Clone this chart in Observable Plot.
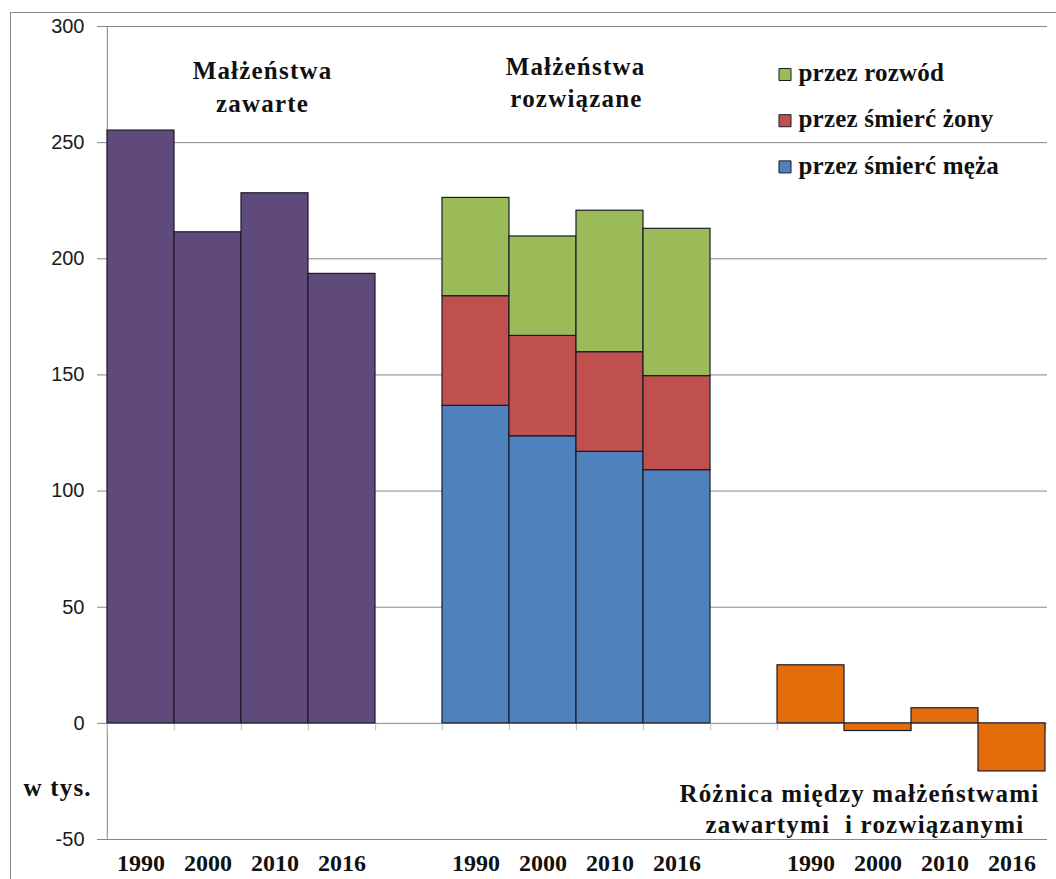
<!DOCTYPE html>
<html><head><meta charset="utf-8">
<script src="https://cdn.jsdelivr.net/npm/d3@7"></script>
<script src="https://cdn.jsdelivr.net/npm/@observablehq/plot@0.6"></script>
<style>
html,body{margin:0;padding:0;background:#fff;overflow:hidden;width:1056px;height:879px;}
#wrap{position:relative;width:1056px;height:879px;}
#wrap svg{position:absolute;left:0;top:0;}
#border{position:absolute;left:10px;top:12px;width:1100px;height:900px;border:1px solid #8a8a8a;pointer-events:none;}
g.serif, g.serif text { font-family: "Liberation Serif", "Times New Roman", "DejaVu Serif", serif !important; font-weight: bold; }
g.wide text { letter-spacing: 1.2px; }
g.legend text { letter-spacing: 0.2px; }
g.sans, g.sans text { font-family: "Liberation Sans", Arial, sans-serif !important; }
</style></head><body><div id="wrap"><div id="border"></div></div>
<script>
// ---- data (thousands) ----
const years = ["1990", "2000", "2010", "2016"];
const zawarte = [255.2, 211.4, 228.2, 193.5];          // Małżeństwa zawarte
const smiercMeza = [136.7, 123.6, 116.9, 109.0];       // przez śmierć męża
const smiercZony = [47.2, 43.2, 42.9, 40.5];           // przez śmierć żony
const rozwod = [42.3, 42.8, 60.9, 63.4];               // przez rozwód
const roznica = [25.0, -3.3, 6.5, -20.7];              // różnica
const yTicks = [-50, 0, 50, 100, 150, 200, 250, 300];
const seriesNames = ["zawarte", "przez śmierć męża", "przez śmierć żony", "przez rozwód", "różnica"];
const seriesColors = ["#604A7B", "#4F81BD", "#C0504D", "#9BBB59", "#E46C0A"];
const legendLabels = ["przez rozwód", "przez śmierć żony", "przez śmierć męża"];

// ---- slots: 3 groups of 4 years with a gap between groups ----
const slots = [...years.map(y => "A" + y), "gap1", ...years.map(y => "B" + y), "gap2", ...years.map(y => "C" + y)];
const rows = [];
years.forEach((y, i) => rows.push({slot: "A" + y, value: zawarte[i], series: "zawarte"}));
years.forEach((y, i) => {
  rows.push({slot: "B" + y, value: smiercMeza[i], series: "przez śmierć męża"});
  rows.push({slot: "B" + y, value: smiercZony[i], series: "przez śmierć żony"});
  rows.push({slot: "B" + y, value: rozwod[i], series: "przez rozwód"});
});
years.forEach((y, i) => rows.push({slot: "C" + y, value: roznica[i], series: "różnica"}));

const W = 1056, H = 879, mL = 104, mR = 9, mT = 26, mB = 40;
const bw = (W - mL - mR) / slots.length;
const serif = "Liberation Serif, Times New Roman, serif";

// text placed by baseline position in the page
function label(s, x, baseline, anchor, cls) {
  return Plot.text([s], {text: d => d, className: "serif " + cls, fontFamily: serif, fontWeight: "bold", fill: "#111",
    fontSize: 25, frameAnchor: "top-left", lineAnchor: "bottom", textAnchor: anchor, dx: x - mL, dy: baseline - mT});
}

const edges = slots.filter(s => !s.startsWith("gap"));
const groupEnds = ["A2016", "B2016", "C2016"];

const marks = [
  Plot.gridY(yTicks, {stroke: "#878787", strokeOpacity: 1, strokeWidth: 1}),
  Plot.axisY(yTicks, {className: "sans", tickSize: 7, tickPadding: 13, tickFormat: d => String(d), fontSize: 20, fontFamily: "Liberation Sans", stroke: "#878787", fill: "#1a1a1a", label: null}),
  Plot.ruleX(["A1990"], {x: d => d, y1: -50, y2: 300, dx: -bw / 2, stroke: "#878787"}),
  Plot.ruleX(edges, {x: d => d, y1: 0, y2: -3.2, dx: -bw / 2, stroke: "#bbb"}),
  Plot.ruleX(groupEnds, {x: d => d, y1: 0, y2: -3.2, dx: bw / 2, stroke: "#bbb"}),
  Plot.barY(rows, {x: "slot", y: "value", fill: "series", stroke: "#1b1b2b", strokeWidth: 1.2}),
  Plot.axisX(edges, {className: "serif", tickSize: 0, tickPadding: 14, tickFormat: d => d.slice(1), fontSize: 24, fontWeight: "bold", fontFamily: serif, fill: "#111", label: null}),
  label("Małżeństwa", 262, 78.5, "middle", "wide"),
  label("zawarte", 262, 111.5, "middle", "wide"),
  label("Małżeństwa", 575, 74, "middle", "wide"),
  label("rozwiązane", 576, 106.5, "middle", "wide"),
  label("w tys.", 23, 795, "start", "wide"),
  label("Różnica między małżeństwami", 1039, 801, "end", "wide"),
  label("zawartymi  i rozwiązanymi", 1024, 832, "end", "wide"),
  ...legendLabels.map((l, i) => Plot.dot([l], {frameAnchor: "top-left", symbol: "square", r: 6.8, fill: d => d, stroke: "#1b1b2b", strokeWidth: 1, dx: 784.5 - mL, dy: 74 + i * 46.2 - mT})),
  ...legendLabels.map((l, i) => label(l, 798, 80 + i * 46.6, "start", "legend"))
];

const chart = Plot.plot({
  width: W, height: H,
  marginLeft: mL, marginRight: mR, marginTop: mT, marginBottom: mB,
  x: {domain: slots, padding: 0, axis: null},
  y: {domain: [-50, 300], axis: null},
  color: {domain: seriesNames, range: seriesColors},
  style: {background: "transparent", overflow: "visible"},
  marks
});
document.getElementById("wrap").appendChild(chart);
</script></body></html>
